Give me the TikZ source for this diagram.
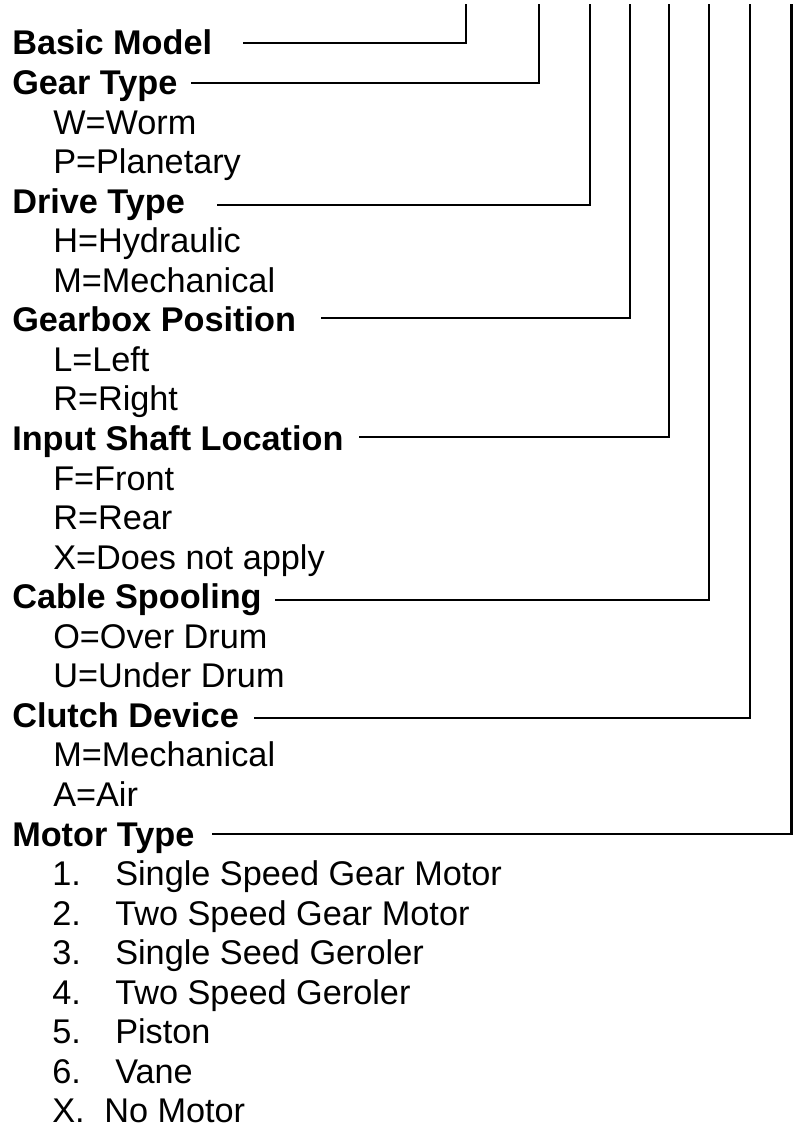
\documentclass[tikz,border=0pt]{standalone}
\usepackage{fontspec}
\setmainfont{Liberation Sans}

\begin{document}
\begin{tikzpicture}[
  x=0.75pt, y=-0.75pt,
  font=\fontsize{25.7}{30}\selectfont,
  head/.style={anchor=base west, inner sep=0pt, font=\fontsize{25.7}{30}\selectfont\bfseries},
  item/.style={anchor=base west, inner sep=0pt},
  lead/.style={line width=1.9pt, line cap=butt},
]
\useasboundingbox (0,0) rectangle (793,1131);
% headings and their codes
\node[head] (basic) at (12,55) {Basic Model};
\node[head] (gear) at (12,94.55) {Gear Type};
\node[item] (worm) at (53,134.1) {W=Worm};
\node[item] (planet) at (53,173.65) {P=Planetary};
\node[head] (drive) at (12,213.2) {Drive Type};
\node[item] (hyd) at (53,252.75) {H=Hydraulic};
\node[item] (mech) at (53,292.3) {M=Mechanical};
\node[head] (gbox) at (12,331.85) {Gearbox Position};
\node[item] (left) at (53,371.4) {L=Left};
\node[item] (right) at (53,410.95) {R=Right};
\node[head] (shaft) at (12,450.5) {Input Shaft Location};
\node[item] (front) at (53,490.05) {F=Front};
\node[item] (rear) at (53,529.6) {R=Rear};
\node[item] (napply) at (53,569.15) {X=Does not apply};
\node[head] (cable) at (12,608.7) {Cable Spooling};
\node[item] (over) at (53,648.25) {O=Over Drum};
\node[item] (under) at (53,687.8) {U=Under Drum};
\node[head] (clutch) at (12,727.35) {Clutch Device};
\node[item] (cmech) at (53,766.9) {M=Mechanical};
\node[item] (air) at (53,806.45) {A=Air};
\node[head] (motor) at (12,846) {Motor Type};
% motor list
\node[item] (n1) at (52,885.55) {1.};
\node[item] at (115,885.55) {Single Speed Gear Motor};
\node[item] (n2) at (52,925.1) {2.};
\node[item] at (115,925.1) {Two Speed Gear Motor};
\node[item] (n3) at (52,964.65) {3.};
\node[item] at (115,964.65) {Single Seed Geroler};
\node[item] (n4) at (52,1004.2) {4.};
\node[item] at (115,1004.2) {Two Speed Geroler};
\node[item] (n5) at (52,1043.75) {5.};
\node[item] at (115,1043.75) {Piston};
\node[item] (n6) at (52,1083.3) {6.};
\node[item] at (115,1083.3) {Vane};
\node[item] (nx) at (52,1122.85) {X.};
\node[item] at (104,1122.85) {No Motor};
% leader ends
\coordinate (l1) at (243,43);  \coordinate (t1) at (466,4);
\coordinate (l2) at (191,83);  \coordinate (t2) at (539,4);
\coordinate (l3) at (217,205); \coordinate (t3) at (590,4);
\coordinate (l4) at (321,318); \coordinate (t4) at (630,4);
\coordinate (l5) at (359,437); \coordinate (t5) at (669,4);
\coordinate (l6) at (275,600); \coordinate (t6) at (709,4);
\coordinate (l7) at (254,718); \coordinate (t7) at (750,4);
\coordinate (l8) at (212,834); \coordinate (t8) at (791.5,4);
\draw[lead] (l1) -| (t1);
\draw[lead] (l2) -| (t2);
\draw[lead] (l3) -| (t3);
\draw[lead] (l4) -| (t4);
\draw[lead] (l5) -| (t5);
\draw[lead] (l6) -| (t6);
\draw[lead] (l7) -| (t7);
\draw[lead] (l8) -| (t8);
\end{tikzpicture}
\end{document}
